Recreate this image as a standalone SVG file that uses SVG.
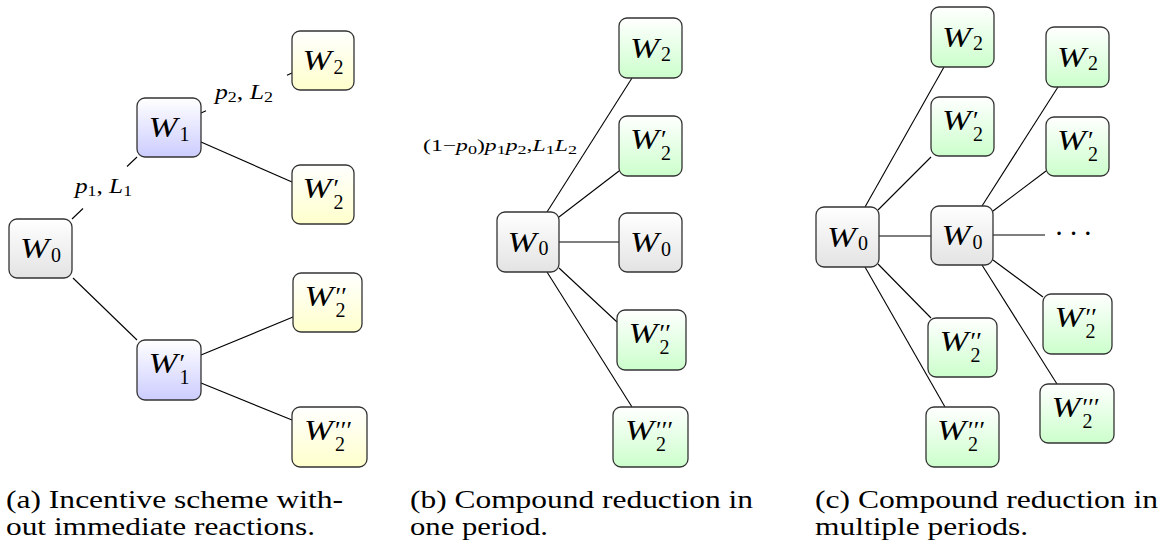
<svg xmlns="http://www.w3.org/2000/svg" width="1167" height="551" viewBox="0 0 1167 551">
<defs>
<linearGradient id="gGrey" x1="0" y1="0" x2="0" y2="1"><stop offset="0" stop-color="#ffffff"/><stop offset="1" stop-color="#e3e3e3"/></linearGradient>
<linearGradient id="gBlue" x1="0" y1="0" x2="0" y2="1"><stop offset="0" stop-color="#ffffff"/><stop offset="1" stop-color="#ccccff"/></linearGradient>
<linearGradient id="gYel" x1="0" y1="0" x2="0" y2="1"><stop offset="0" stop-color="#ffffff"/><stop offset="1" stop-color="#ffffcc"/></linearGradient>
<linearGradient id="gGrn" x1="0" y1="0" x2="0" y2="1"><stop offset="0" stop-color="#ffffff"/><stop offset="1" stop-color="#ccffcc"/></linearGradient>
</defs>
<style>
rect.n{stroke:#333;stroke-width:1.3;}
.grey{fill:url(#gGrey);} .blue{fill:url(#gBlue);} .yel{fill:url(#gYel);} .grn{fill:url(#gGrn);}
.w{font-family:"Liberation Serif",serif;font-style:italic;font-size:29px;fill:#000;}
.s{font-family:"Liberation Serif",serif;font-size:20px;fill:#000;}
.pr{font-family:"Liberation Serif","DejaVu Serif",serif;font-size:26px;}
.lbl{font-family:"Liberation Serif",serif;font-size:20px;fill:#000;}
.lbl2{font-family:"Liberation Serif",serif;font-size:17px;fill:#000;}
.i{font-style:italic;}
.cap{font-family:"Liberation Serif",serif;font-size:26px;fill:#000;}
#edges line{stroke:#000;stroke-width:1.1;}
</style>
<rect width="1167" height="551" fill="#fff"/>
<g id="edges">
<line x1="72" y1="219" x2="83" y2="208.5"/><line x1="127" y1="166.5" x2="137" y2="157"/>
<line x1="201" y1="113" x2="206" y2="110.8"/><line x1="287" y1="75.2" x2="292" y2="73"/>
<line x1="201" y1="142" x2="292" y2="182"/>
<line x1="73" y1="278" x2="137" y2="340"/>
<line x1="201" y1="355" x2="293" y2="317"/>
<line x1="201" y1="383" x2="292" y2="420"/>
<line x1="547" y1="212" x2="632" y2="78"/>
<line x1="559" y1="217" x2="619" y2="171"/>
<line x1="559" y1="242" x2="619" y2="242"/>
<line x1="559" y1="268" x2="617" y2="322"/>
<line x1="547" y1="272" x2="632" y2="407"/>
<line x1="865" y1="207" x2="944" y2="67"/>
<line x1="878" y1="210" x2="931" y2="157"/>
<line x1="879" y1="236" x2="931" y2="236"/>
<line x1="982" y1="206" x2="1058" y2="87"/>
<line x1="993" y1="211" x2="1046" y2="171"/>
<line x1="993" y1="235" x2="1045" y2="235"/>
<line x1="878" y1="264" x2="931" y2="318"/>
<line x1="865" y1="267" x2="945" y2="407"/>
<line x1="993" y1="260" x2="1043" y2="297"/>
<line x1="982" y1="265" x2="1057" y2="384"/>
</g>
<g id="labels">
<text class="lbl" x="75" y="193" textLength="57" lengthAdjust="spacingAndGlyphs"><tspan class="i">p</tspan><tspan font-size="14" dy="3">1</tspan><tspan dy="-3">, </tspan><tspan class="i">L</tspan><tspan font-size="14" dy="3">1</tspan></text>
<text class="lbl" x="215" y="99" textLength="58" lengthAdjust="spacingAndGlyphs"><tspan class="i">p</tspan><tspan font-size="14" dy="3">2</tspan><tspan dy="-3">, </tspan><tspan class="i">L</tspan><tspan font-size="14" dy="3">2</tspan></text>
<text class="lbl2" x="423" y="151" textLength="154" lengthAdjust="spacingAndGlyphs"><tspan>(1−</tspan><tspan class="i">p</tspan><tspan font-size="13" dy="2.5">0</tspan><tspan dy="-2.5">)</tspan><tspan class="i">p</tspan><tspan font-size="13" dy="2.5">1</tspan><tspan class="i" dy="-2.5">p</tspan><tspan font-size="13" dy="2.5">2</tspan><tspan dy="-2.5">,</tspan><tspan class="i">L</tspan><tspan font-size="13" dy="2.5">1</tspan><tspan class="i" dy="-2.5">L</tspan><tspan font-size="13" dy="2.5">2</tspan></text>
<text class="w" x="1055" y="243" font-style="normal" textLength="36">· · ·</text>
</g>
<g id="a-W0"><rect class="n grey" x="9" y="219" width="63" height="59" rx="8"/><text class="w" x="20" y="258" textLength="29" lengthAdjust="spacingAndGlyphs">W</text><text class="s" x="51" y="261.5">0</text></g>
<g id="a-W1"><rect class="n blue" x="137" y="98" width="64" height="59" rx="8"/><text class="w" x="148.5" y="137" textLength="29" lengthAdjust="spacingAndGlyphs">W</text><text class="s" x="179.5" y="140.5">1</text></g>
<g id="a-W1p"><rect class="n blue" x="137" y="340" width="64" height="60" rx="8"/><text class="w" x="148.5" y="373" textLength="29" lengthAdjust="spacingAndGlyphs">W</text><text class="s"><tspan class="pr" x="179.5" y="372">′</tspan><tspan x="179.5" y="384">1</tspan></text></g>
<g id="a-W2"><rect class="n yel" x="292" y="31" width="62" height="59" rx="8"/><text class="w" x="302.5" y="70" textLength="29" lengthAdjust="spacingAndGlyphs">W</text><text class="s" x="333.5" y="73.5">2</text></g>
<g id="a-W2p"><rect class="n yel" x="292" y="165" width="62" height="59" rx="8"/><text class="w" x="302.5" y="197.5" textLength="29" lengthAdjust="spacingAndGlyphs">W</text><text class="s"><tspan class="pr" x="333.5" y="196.5">′</tspan><tspan x="333.5" y="208.5">2</tspan></text></g>
<g id="a-W2pp"><rect class="n yel" x="293" y="273" width="69" height="59" rx="8"/><text class="w" x="304.5" y="305.5" textLength="29" lengthAdjust="spacingAndGlyphs">W</text><text class="s"><tspan class="pr" x="335.5" y="304.5">′′</tspan><tspan x="335.5" y="316.5">2</tspan></text></g>
<g id="a-W2ppp"><rect class="n yel" x="292" y="407" width="75" height="60" rx="8"/><text class="w" x="304" y="440" textLength="29" lengthAdjust="spacingAndGlyphs">W</text><text class="s"><tspan class="pr" x="335" y="439">′′′</tspan><tspan x="335" y="451">2</tspan></text></g>
<g id="b-W0"><rect class="n grey" x="497" y="212" width="62" height="60" rx="8"/><text class="w" x="507.5" y="251.5" textLength="29" lengthAdjust="spacingAndGlyphs">W</text><text class="s" x="538.5" y="255">0</text></g>
<g id="b-W2"><rect class="n grn" x="619" y="18" width="63" height="60" rx="8"/><text class="w" x="630" y="57.5" textLength="29" lengthAdjust="spacingAndGlyphs">W</text><text class="s" x="661" y="61">2</text></g>
<g id="b-W2p"><rect class="n grn" x="619" y="116" width="63" height="60" rx="8"/><text class="w" x="630" y="149" textLength="29" lengthAdjust="spacingAndGlyphs">W</text><text class="s"><tspan class="pr" x="661" y="148">′</tspan><tspan x="661" y="160">2</tspan></text></g>
<g id="b-W0r"><rect class="n grey" x="619" y="213" width="63" height="59" rx="8"/><text class="w" x="630" y="252" textLength="29" lengthAdjust="spacingAndGlyphs">W</text><text class="s" x="661" y="255.5">0</text></g>
<g id="b-W2pp"><rect class="n grn" x="617" y="310" width="69" height="60" rx="8"/><text class="w" x="628.5" y="343" textLength="29" lengthAdjust="spacingAndGlyphs">W</text><text class="s"><tspan class="pr" x="659.5" y="342">′′</tspan><tspan x="659.5" y="354">2</tspan></text></g>
<g id="b-W2ppp"><rect class="n grn" x="613" y="407" width="75" height="60" rx="8"/><text class="w" x="625" y="440" textLength="29" lengthAdjust="spacingAndGlyphs">W</text><text class="s"><tspan class="pr" x="656" y="439">′′′</tspan><tspan x="656" y="451">2</tspan></text></g>
<g id="c-W0L"><rect class="n grey" x="816" y="207" width="63" height="60" rx="8"/><text class="w" x="827" y="246.5" textLength="29" lengthAdjust="spacingAndGlyphs">W</text><text class="s" x="858" y="250">0</text></g>
<g id="c-W0M"><rect class="n grey" x="931" y="206" width="62" height="59" rx="8"/><text class="w" x="941.5" y="245" textLength="29" lengthAdjust="spacingAndGlyphs">W</text><text class="s" x="972.5" y="248.5">0</text></g>
<g id="c-W2a"><rect class="n grn" x="931" y="7" width="63" height="60" rx="8"/><text class="w" x="942" y="46.5" textLength="29" lengthAdjust="spacingAndGlyphs">W</text><text class="s" x="973" y="50">2</text></g>
<g id="c-W2pa"><rect class="n grn" x="931" y="97" width="63" height="59" rx="8"/><text class="w" x="942" y="129.5" textLength="29" lengthAdjust="spacingAndGlyphs">W</text><text class="s"><tspan class="pr" x="973" y="128.5">′</tspan><tspan x="973" y="140.5">2</tspan></text></g>
<g id="c-W2ppa"><rect class="n grn" x="928" y="318" width="69" height="59" rx="8"/><text class="w" x="939.5" y="350.5" textLength="29" lengthAdjust="spacingAndGlyphs">W</text><text class="s"><tspan class="pr" x="970.5" y="349.5">′′</tspan><tspan x="970.5" y="361.5">2</tspan></text></g>
<g id="c-W2pppa"><rect class="n grn" x="926" y="407" width="73" height="60" rx="8"/><text class="w" x="937" y="440" textLength="29" lengthAdjust="spacingAndGlyphs">W</text><text class="s"><tspan class="pr" x="968" y="439">′′′</tspan><tspan x="968" y="451">2</tspan></text></g>
<g id="c-W2b"><rect class="n grn" x="1046" y="27" width="63" height="60" rx="8"/><text class="w" x="1057" y="66.5" textLength="29" lengthAdjust="spacingAndGlyphs">W</text><text class="s" x="1088" y="70">2</text></g>
<g id="c-W2pb"><rect class="n grn" x="1046" y="117" width="63" height="59" rx="8"/><text class="w" x="1057" y="149.5" textLength="29" lengthAdjust="spacingAndGlyphs">W</text><text class="s"><tspan class="pr" x="1088" y="148.5">′</tspan><tspan x="1088" y="160.5">2</tspan></text></g>
<g id="c-W2ppb"><rect class="n grn" x="1043" y="294" width="69" height="60" rx="8"/><text class="w" x="1054.5" y="327" textLength="29" lengthAdjust="spacingAndGlyphs">W</text><text class="s"><tspan class="pr" x="1085.5" y="326">′′</tspan><tspan x="1085.5" y="338">2</tspan></text></g>
<g id="c-W2pppb"><rect class="n grn" x="1040" y="384" width="74" height="59" rx="8"/><text class="w" x="1051.5" y="416.5" textLength="29" lengthAdjust="spacingAndGlyphs">W</text><text class="s"><tspan class="pr" x="1082.5" y="415.5">′′′</tspan><tspan x="1082.5" y="427.5">2</tspan></text></g>
<g id="captions">
<text class="cap" x="6" y="508" textLength="337" lengthAdjust="spacingAndGlyphs">(a) Incentive scheme with-</text>
<text class="cap" x="6" y="535" textLength="309" lengthAdjust="spacingAndGlyphs">out immediate reactions.</text>
<text class="cap" x="410" y="508" textLength="343" lengthAdjust="spacingAndGlyphs">(b) Compound reduction in</text>
<text class="cap" x="410" y="535" textLength="138" lengthAdjust="spacingAndGlyphs">one period.</text>
<text class="cap" x="815" y="508" textLength="343" lengthAdjust="spacingAndGlyphs">(c) Compound reduction in</text>
<text class="cap" x="815" y="535" textLength="213" lengthAdjust="spacingAndGlyphs">multiple periods.</text>
</g>
</svg>
